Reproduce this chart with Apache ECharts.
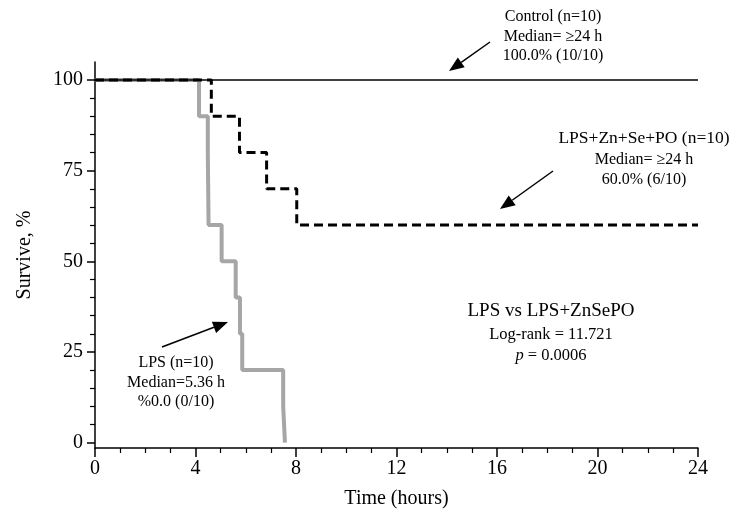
<!DOCTYPE html>
<html>
<head>
<meta charset="utf-8">
<script src="https://cdn.jsdelivr.net/npm/echarts@6/dist/echarts.min.js"></script>
<style>
  html, body { margin: 0; padding: 0; background: #fff; }
  #main { width: 736px; height: 519px; }
</style>
</head>
<body>
<div id="main"></div>
<script>
// survival data (hours, % alive)
var timeLps = [0, 4.14, 4.49, 4.52, 5.04, 5.6, 5.77, 5.86, 7.49, 7.56];
var survLps = [100, 90, 80, 60, 50, 40, 30, 20, 10, 0];
var timeZn = [0, 4.63, 5.75, 6.83, 8.03, 24];
var survZn = [100, 90, 80, 70, 60, 60];
var timeCtrl = [0, 24];
var survCtrl = [100, 100];

var yMajor = [0, 25, 50, 75, 100];
var yMinor = [5, 10, 15, 20, 30, 35, 40, 45, 55, 60, 65, 70, 80, 85, 90, 95];

var FONT = '"Liberation Serif", "DejaVu Serif", serif';

function pairs(xs, ys) {
  return xs.map(function (x, i) { return [x, ys[i]]; });
}

// text blocks: [text, x, y, size]
var notes = [
  ['Control (n=10)', 553, 17, 16],
  ['Median= \u226524 h', 553, 37, 16],
  ['100.0% (10/10)', 553, 56, 16],
  ['LPS+Zn+Se+PO (n=10)', 644, 138, 17.5],
  ['Median= \u226524 h', 644, 160, 16],
  ['60.0% (6/10)', 644, 180, 16],
  ['LPS vs LPS+ZnSePO', 551, 311, 19],
  ['Log-rank = 11.721', 551, 335, 16.5],
  ['{i|p} = 0.0006', 551, 356, 16.5],
  ['LPS (n=10)', 176, 363, 16],
  ['Median=5.36 h', 176, 383, 16],
  ['%0.0 (0/10)', 176, 402, 16]
];

var arrows = [
  [490, 42, 449, 71],
  [553, 171, 500, 209],
  [162, 347, 228, 322]
];

function arrow(a) {
  var x1 = a[0], y1 = a[1], x2 = a[2], y2 = a[3];
  var dx = x2 - x1, dy = y2 - y1;
  var len = Math.sqrt(dx * dx + dy * dy);
  var ux = dx / len, uy = dy / len;
  var hl = 15, hw = 6;
  var bx = x2 - ux * hl, by = y2 - uy * hl;
  return [{
    type: 'line',
    shape: { x1: x1, y1: y1, x2: bx, y2: by },
    style: { stroke: '#000', lineWidth: 1.5 }
  }, {
    type: 'polygon',
    shape: { points: [[x2, y2], [bx - uy * hw, by + ux * hw], [bx + uy * hw, by - ux * hw]] },
    style: { fill: '#000' }
  }];
}

var graphics = [];
notes.forEach(function (n) {
  graphics.push({
    type: 'text',
    x: n[1],
    y: n[2],
    style: {
      text: n[0],
      fill: '#000',
      font: n[3] + 'px ' + FONT,
      align: 'center',
      verticalAlign: 'middle',
      rich: {
        i: { fontStyle: 'italic', fontSize: n[3], fontFamily: FONT, fill: '#000' }
      }
    }
  });
});
arrows.forEach(function (a) {
  graphics = graphics.concat(arrow(a));
});

var chart = echarts.init(document.getElementById('main'));

chart.setOption({
  animation: false,
  backgroundColor: '#fff',
  textStyle: { fontFamily: FONT, color: '#000' },
  grid: { left: 95, right: 38, top: 62, bottom: 71 },
  xAxis: {
    type: 'value',
    min: 0,
    max: 24,
    interval: 4,
    name: 'Time (hours)',
    nameLocation: 'middle',
    nameGap: 41,
    nameTextStyle: { fontFamily: FONT, fontSize: 20, color: '#000' },
    axisLine: { onZero: false, lineStyle: { color: '#000', width: 1.5 } },
    axisTick: { length: 9, lineStyle: { color: '#000', width: 1.5 } },
    minorTick: { show: true, splitNumber: 4, length: 5, lineStyle: { color: '#000', width: 1.2 } },
    axisLabel: { fontFamily: FONT, fontSize: 20, color: '#000', margin: 11 },
    splitLine: { show: false }
  },
  yAxis: [{
    type: 'value',
    position: 'left',
    min: -1.5,
    max: 105,
    name: 'Survive, %',
    nameLocation: 'middle',
    nameGap: 60,
    nameTextStyle: { fontFamily: FONT, fontSize: 20, color: '#000' },
    axisLine: { onZero: false, lineStyle: { color: '#000', width: 1.5 } },
    axisTick: { customValues: yMajor, length: 8, lineStyle: { color: '#000', width: 1.5 } },
    axisLabel: { customValues: yMajor, fontFamily: FONT, fontSize: 20, color: '#000', margin: 12 },
    splitLine: { show: false }
  }, {
    type: 'value',
    position: 'left',
    min: -1.5,
    max: 105,
    axisLine: { show: false, onZero: false },
    axisTick: { customValues: yMinor, length: 5, lineStyle: { color: '#000', width: 1.2 } },
    axisLabel: { show: false },
    splitLine: { show: false }
  }],
  series: [{
    name: 'LPS',
    type: 'line',
    step: 'end',
    showSymbol: false,
    data: pairs(timeLps, survLps),
    lineStyle: { color: '#a6a6a6', width: 4 },
    z: 2
  }, {
    name: 'LPS+Zn+Se+PO',
    type: 'line',
    step: 'end',
    showSymbol: false,
    data: pairs(timeZn, survZn),
    lineStyle: { color: '#000', width: 3, type: [9, 5] },
    z: 3
  }, {
    name: 'Control',
    type: 'line',
    showSymbol: false,
    data: pairs(timeCtrl, survCtrl),
    lineStyle: { color: '#000', width: 1.5 },
    z: 4
  }],
  graphic: graphics
});
</script>
</body>
</html>
